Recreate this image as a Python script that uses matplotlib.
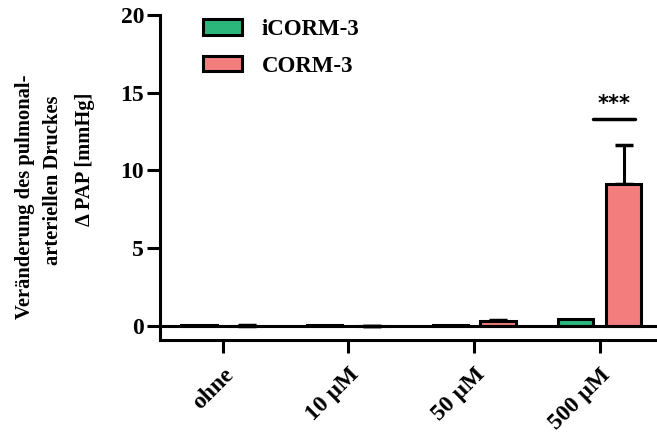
import matplotlib
matplotlib.use("Agg")
import matplotlib.pyplot as plt
import numpy as np

categories = ["ohne", "10 µM", "50 µM", "500 µM"]
series_names = ["iCORM-3", "CORM-3"]
icorm_values = [0.05, 0.05, 0.05, 0.4]
icorm_err = [0.03, 0.05, 0.05, 0.1]
corm_values = [0.0, -0.05, 0.3, 9.1]
corm_err = [0.02, 0.03, 0.08, 2.55]
yticks = [0, 5, 10, 15, 20]
signif_text = "***"
ylabel_lines = ["Veränderung des pulmonal-", "arteriellen Druckes", "\u0394 PAP [mmHg]"]

plt.rcParams['font.family'] = ['Liberation Serif', 'DejaVu Serif']
plt.rcParams['font.weight'] = 'bold'

W, H = 657, 436
fig = plt.figure(figsize=(W / 100, H / 100), dpi=100)
ax = fig.add_axes([160 / W, 1 - 340 / H, 1 - 160 / W, (340 - 15) / H])

green = "#2bb77c"
red = "#f37d7d"
x = np.arange(len(categories))
w = 0.28
off = 0.19

ax.bar(x - off, icorm_values, w, color=green, edgecolor="black", linewidth=2.2,
       label=series_names[0], zorder=3)
ax.bar(x + off, corm_values, w, color=red, edgecolor="black", linewidth=2.2,
       label=series_names[1], zorder=3)
ax.errorbar(x - off, icorm_values, yerr=[np.zeros(4), icorm_err], fmt="none",
            ecolor="black", elinewidth=2.2, capsize=0, zorder=2)
ax.errorbar(x + off, corm_values, yerr=[np.zeros(4), corm_err], fmt="none",
            ecolor="black", elinewidth=2.2, capsize=6.5, capthick=2.5, zorder=2)

ax.axhline(0, color="black", linewidth=2.2, zorder=4)

# significance
ytop = 13.3
ax.plot([x[3] - 0.05, x[3] + 0.28], [ytop, ytop], color="black", lw=2.5,
        solid_capstyle="round")
ax.text(x[3] + 0.115, ytop + 0.3, signif_text, ha="center", va="bottom",
        fontsize=15, fontweight="bold", family="DejaVu Sans")

ax.set_xlim(-0.5, 3.456)
ax.set_ylim(-0.93, 20)
ax.set_yticks(yticks)
ax.set_yticklabels([str(t) for t in yticks], fontsize=17, fontweight="bold")
ax.set_xticks(x)
ax.set_xticklabels(categories, rotation=45, ha="right", rotation_mode="anchor",
                   fontsize=17, fontweight="bold")

for s in ["top", "right"]:
    ax.spines[s].set_visible(False)
for s in ["left", "bottom"]:
    ax.spines[s].set_linewidth(2.2)
ax.tick_params(axis="both", width=2.2, length=9.5, color="black")
ax.tick_params(axis="y", pad=2)
ax.tick_params(axis="x", pad=8)

# y label, three lines placed individually (baseline x, centre y in pixels)
label_pos = [(30, 197), (58, 180), (90, 159)]
for txt, (px, py) in zip(ylabel_lines, label_pos):
    fig.text(px / W, 1 - py / H, txt, rotation=90, rotation_mode="anchor",
             ha="center", va="baseline", fontsize=14.8, fontweight="bold")

leg = ax.legend(loc="upper left", bbox_to_anchor=(203 / W, 1 - 19 / H),
                bbox_transform=fig.transFigure, frameon=False,
                prop={"size": 16.5, "weight": "bold"}, handlelength=1.7,
                handleheight=0.65, labelspacing=0.68, handletextpad=0.85,
                borderpad=0, borderaxespad=0)

fig.savefig("out.png", dpi=100)
